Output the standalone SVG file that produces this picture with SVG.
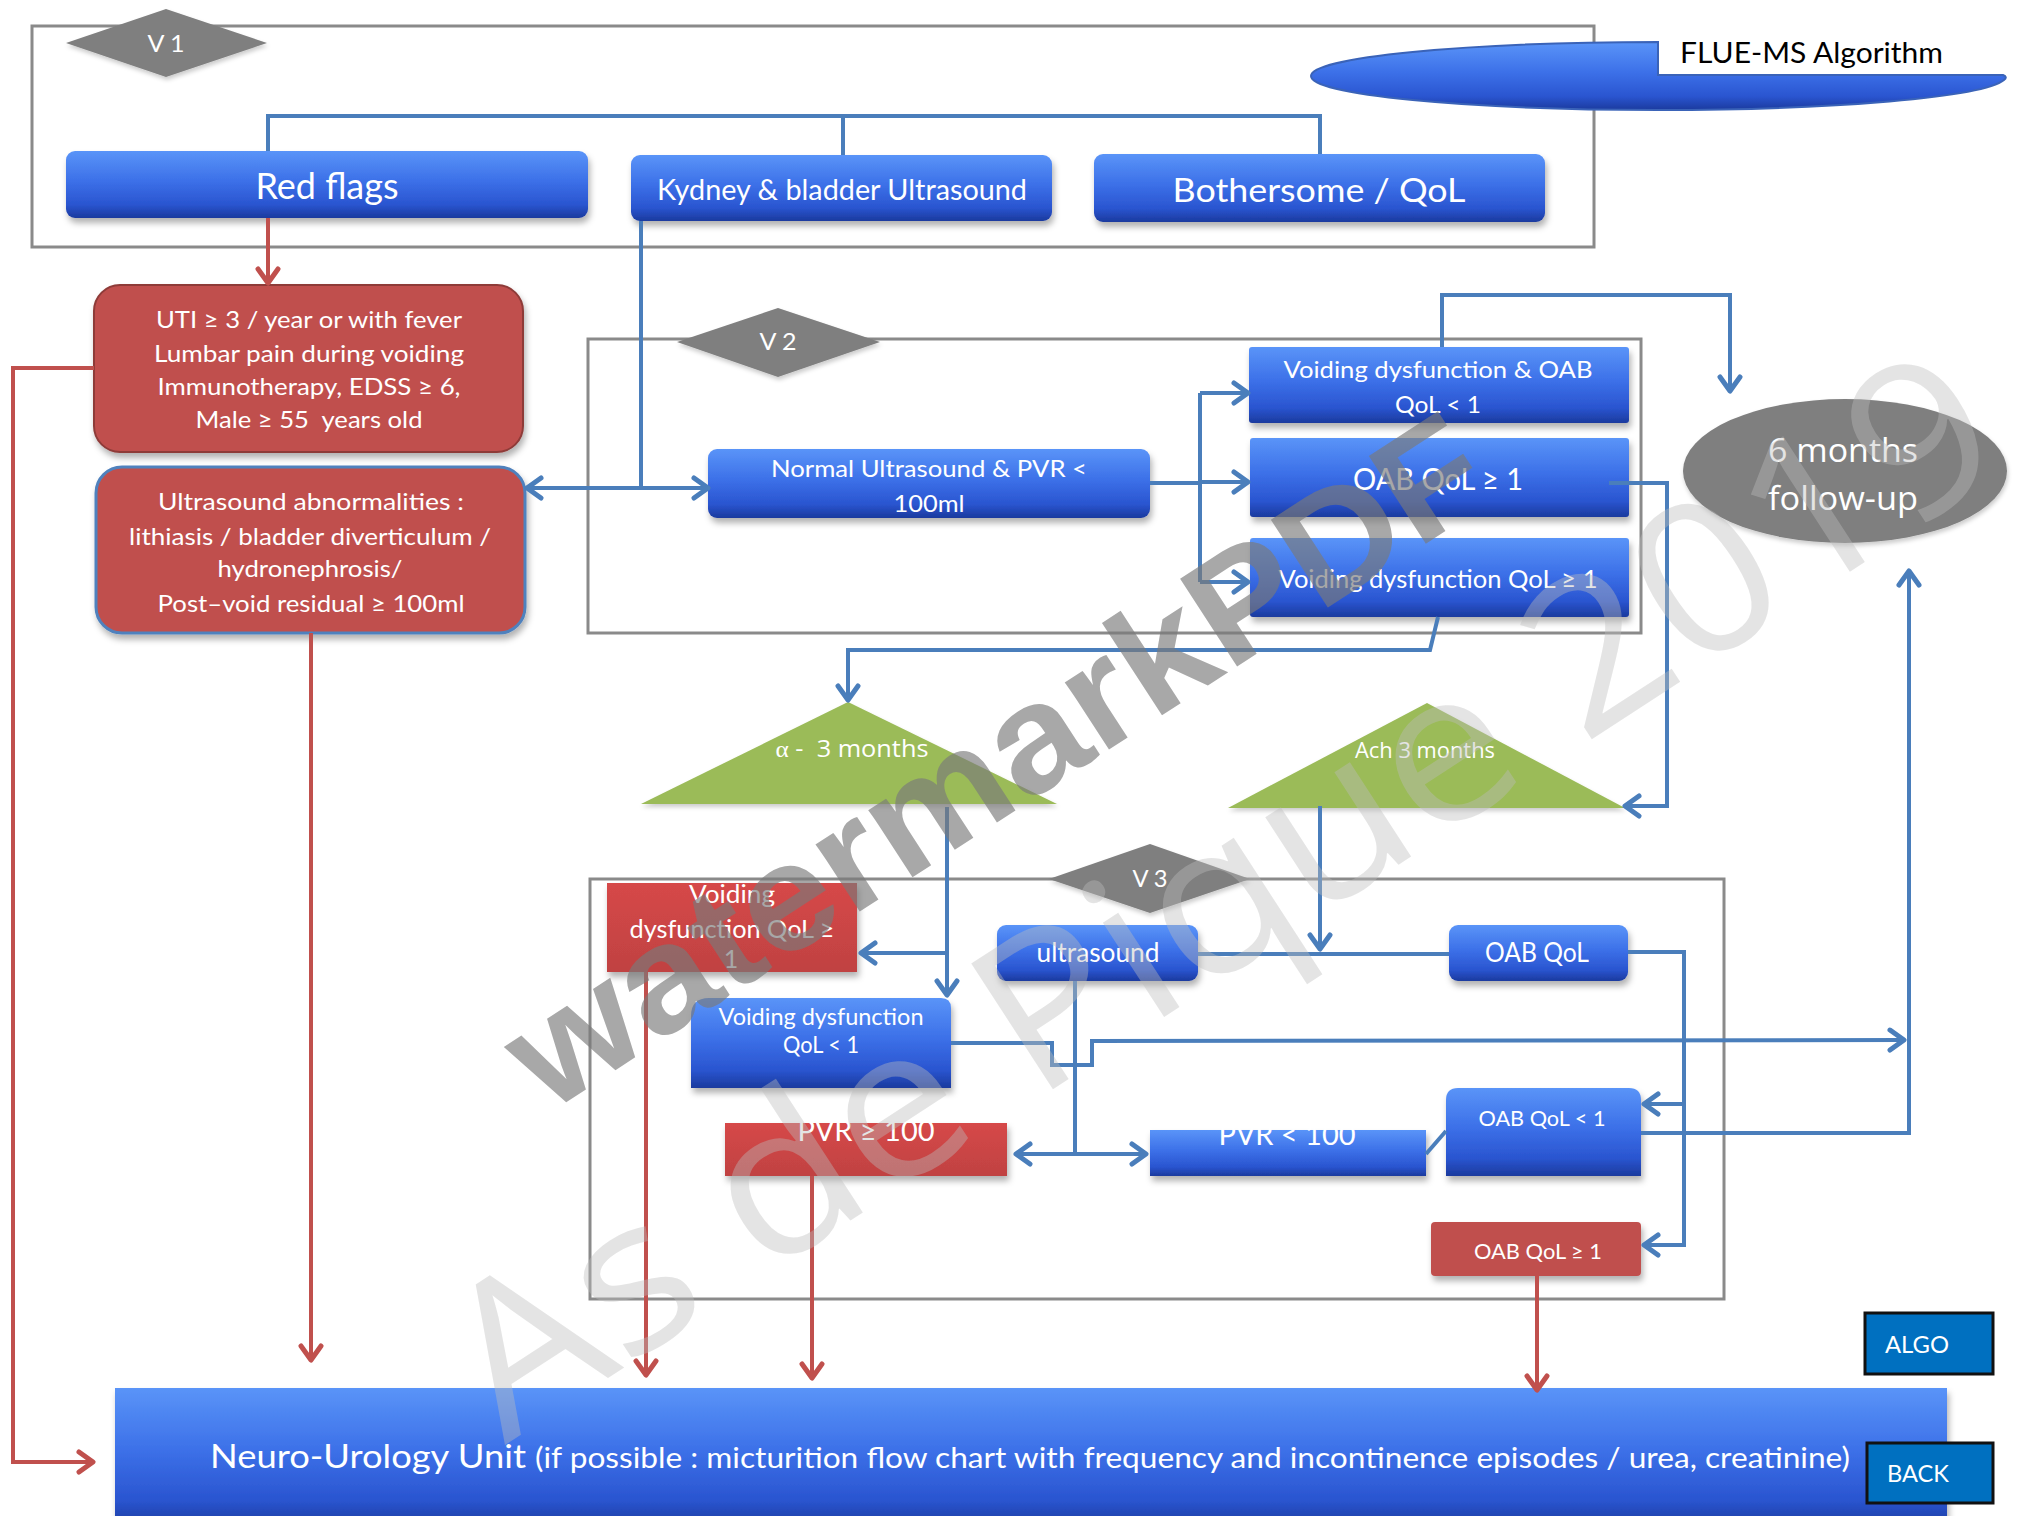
<svg xmlns="http://www.w3.org/2000/svg" width="2020" height="1516" viewBox="0 0 2020 1516">
  <defs>
    <linearGradient id="gBlue" x1="0" y1="0" x2="0" y2="1">
      <stop offset="0" stop-color="#5a94f8"/>
      <stop offset="0.45" stop-color="#3c70e8"/>
      <stop offset="0.8" stop-color="#2a55d0"/>
      <stop offset="1" stop-color="#1b3a9e"/>
    </linearGradient>
    <linearGradient id="gRed" x1="0" y1="0" x2="0" y2="1">
      <stop offset="0" stop-color="#d64848"/>
      <stop offset="1" stop-color="#c04242"/>
    </linearGradient>
    <filter id="shadow" x="-10%" y="-20%" width="120%" height="150%">
      <feDropShadow dx="2" dy="5" stdDeviation="3" flood-color="#000" flood-opacity="0.3"/>
    </filter>
    <filter id="soft" x="-5%" y="-5%" width="110%" height="115%">
      <feDropShadow dx="1" dy="3" stdDeviation="2" flood-color="#000" flood-opacity="0.2"/>
    </filter>
    <marker id="arrB" markerUnits="userSpaceOnUse" markerWidth="26" markerHeight="26" viewBox="0 0 26 26" refX="23" refY="13" orient="auto-start-reverse">
      <path d="M9,3 L23,13 L9,23" fill="none" stroke="#4a7ebb" stroke-width="5" stroke-linecap="round" stroke-linejoin="round"/>
    </marker>
    <marker id="arrR" markerUnits="userSpaceOnUse" markerWidth="26" markerHeight="26" viewBox="0 0 26 26" refX="23" refY="13" orient="auto-start-reverse">
      <path d="M9,3 L23,13 L9,23" fill="none" stroke="#c0504d" stroke-width="5" stroke-linecap="round" stroke-linejoin="round"/>
    </marker>
  </defs>
  <style>
    .frame { fill: none; stroke: #8a8a8a; stroke-width: 3; }
    .blue { fill: url(#gBlue); filter: url(#shadow); }
    .red { fill: #c0504d; filter: url(#shadow); }
    .red2 { fill: url(#gRed); filter: url(#shadow); }
    .diamond { fill: #7f7f7f; filter: url(#soft); }
    .tri { fill: #9bbb59; filter: url(#soft); }
    .t { font-family: Lato, "Liberation Sans", sans-serif; fill: #ffffff; text-anchor: middle; }
    .o { font-family: "Open Sans", "Liberation Sans", sans-serif; fill: #ffffff; text-anchor: middle; }
    .cb { fill: none; stroke: #4a7ebb; stroke-width: 4; stroke-linejoin: miter; }
    .cr { fill: none; stroke: #c0504d; stroke-width: 4; }
    .btn { fill: #0070c0; stroke: #111111; stroke-width: 3; }
    .wm1 { font-family: "Liberation Sans", Arial, sans-serif; font-weight: bold; font-size: 152px; fill: #7a7a7a; opacity: 0.65; }
    .wm2 { font-family: "Open Sans", "Liberation Sans", sans-serif; font-size: 210px; fill: #bdbdbd; opacity: 0.4; }
  </style>

  <rect width="2020" height="1516" fill="#ffffff"/>

  <!-- visit frames -->
  <g id="frames">
    <rect id="frame-v1" class="frame" x="32" y="26" width="1562" height="221"/>
    <rect id="frame-v2" class="frame" x="588" y="339" width="1053" height="294"/>
    <rect id="frame-v3" class="frame" x="590" y="879" width="1134" height="420"/>
  </g>

  <!-- title banner -->
  <g id="title">
    <path d="M1311,76 A347,34 0 0 1 1658,42 L1658,75 L2003,75 Q2008,77 2004,80 A347,34 0 0 1 1658,110 A347,34 0 0 1 1311,76 Z" fill="url(#gBlue)" stroke="#3a63b8" stroke-width="2"/>
    <text x="1680" y="63" font-family="Lato, 'Liberation Sans', sans-serif" font-size="28" fill="#000000" textLength="263" lengthAdjust="spacingAndGlyphs">FLUE-MS Algorithm</text>
  </g>

  <!-- nodes -->
  <g id="red-flags">
    <rect class="blue" x="66" y="151" width="522" height="67" rx="9"/>
    <text class="t" x="327" y="199" font-size="36" textLength="143" lengthAdjust="spacingAndGlyphs">Red flags</text>
  </g>
  <g id="kidney-us">
    <rect class="blue" x="631" y="155" width="421" height="66" rx="9"/>
    <text class="t" x="842" y="200" font-size="28" textLength="370" lengthAdjust="spacingAndGlyphs">Kydney &amp; bladder Ultrasound</text>
  </g>
  <g id="bothersome">
    <rect class="blue" x="1094" y="154" width="451" height="68" rx="9"/>
    <text class="t" x="1319" y="202" font-size="33" textLength="293" lengthAdjust="spacingAndGlyphs">Bothersome / QoL</text>
  </g>

  <g id="uti-flags">
    <rect class="red" x="94" y="285" width="429" height="167" rx="26" stroke="#8e3b39" stroke-width="2"/>
    <text class="t" x="309" y="328" font-size="24" textLength="306" lengthAdjust="spacingAndGlyphs">UTI ≥ 3 / year or with fever</text>
    <text class="t" x="309" y="362" font-size="24" textLength="310" lengthAdjust="spacingAndGlyphs">Lumbar pain during voiding</text>
    <text class="t" x="309" y="395" font-size="24" textLength="303" lengthAdjust="spacingAndGlyphs">Immunotherapy, EDSS ≥ 6,</text>
    <text class="t" x="309" y="428" font-size="24" textLength="227" lengthAdjust="spacingAndGlyphs" xml:space="preserve">Male ≥ 55  years old</text>
  </g>
  <g id="us-abnormal">
    <rect class="red" x="96" y="467" width="429" height="166" rx="26" stroke="#4f81bd" stroke-width="3"/>
    <text class="t" x="311" y="510" font-size="24" textLength="306" lengthAdjust="spacingAndGlyphs">Ultrasound abnormalities :</text>
    <text class="t" x="310" y="545" font-size="24" textLength="362" lengthAdjust="spacingAndGlyphs">lithiasis / bladder diverticulum /</text>
    <text class="t" x="310" y="577" font-size="24" textLength="185" lengthAdjust="spacingAndGlyphs">hydronephrosis/</text>
    <text class="t" x="311" y="612" font-size="24" textLength="307" lengthAdjust="spacingAndGlyphs">Post–void residual ≥ 100ml</text>
  </g>

  <g id="normal-us">
    <rect class="blue" x="708" y="449" width="442" height="69" rx="9"/>
    <text class="t" x="929" y="477" font-size="24" textLength="316" lengthAdjust="spacingAndGlyphs">Normal Ultrasound &amp; PVR &lt;</text>
    <text class="t" x="929" y="512" font-size="24" textLength="71" lengthAdjust="spacingAndGlyphs">100ml</text>
  </g>
  <g id="vd-oab-low">
    <rect class="blue" x="1249" y="347" width="380" height="76" rx="3"/>
    <text class="t" x="1438" y="378" font-size="24" textLength="309" lengthAdjust="spacingAndGlyphs">Voiding dysfunction &amp; OAB</text>
    <text class="t" x="1438" y="413" font-size="24" textLength="86" lengthAdjust="spacingAndGlyphs">QoL &lt; 1</text>
  </g>
  <g id="oab-high">
    <rect class="blue" x="1250" y="438" width="379" height="79" rx="3"/>
    <text class="t" x="1438" y="490" font-size="31" textLength="170" lengthAdjust="spacingAndGlyphs">OAB QoL ≥ 1</text>
  </g>
  <g id="vd-high">
    <rect class="blue" x="1250" y="538" width="379" height="79" rx="3"/>
    <text class="t" x="1438" y="588" font-size="25" textLength="319" lengthAdjust="spacingAndGlyphs">Voiding dysfunction QoL ≥ 1</text>
  </g>

  <g id="follow-up">
    <ellipse cx="1845" cy="471" rx="162" ry="72" fill="#7f7f7f" filter="url(#soft)"/>
    <text class="o" x="1843" y="462" font-size="32" fill="#f2f2f2" textLength="150" lengthAdjust="spacingAndGlyphs">6 months</text>
    <text class="o" x="1843" y="510" font-size="32" fill="#f2f2f2" textLength="150" lengthAdjust="spacingAndGlyphs">follow-up</text>
  </g>

  <g id="alpha-3m">
    <polygon class="tri" points="848,702 1057,804 641,804"/>
    <text class="o" x="852" y="757" font-size="23" fill="#f0f0f0" textLength="153" lengthAdjust="spacingAndGlyphs" xml:space="preserve"><tspan font-family="'Liberation Serif', 'DejaVu Serif', serif">α</tspan> -  3 months</text>
  </g>
  <g id="ach-3m">
    <polygon class="tri" points="1427,703 1625,808 1228,808"/>
    <text class="o" x="1425" y="758" font-size="21" fill="#f0f0f0" textLength="140" lengthAdjust="spacingAndGlyphs">Ach 3 months</text>
  </g>

  <g id="v3-vd-high">
    <rect class="red2" x="607" y="883" width="250" height="89"/>
    <text class="t" x="732" y="903" font-size="25" textLength="86" lengthAdjust="spacingAndGlyphs">Voiding</text>
    <text class="t" x="732" y="938" font-size="25" textLength="205" lengthAdjust="spacingAndGlyphs">dysfunction QoL ≥</text>
    <text class="t" x="731" y="968" font-size="25">1</text>
  </g>
  <g id="v3-vd-low">
    <path class="blue" d="M691,1088 L691,1016 Q691,998 709,998 L941,998 Q951,998 951,1008 L951,1088 Z"/>
    <text class="t" x="821" y="1025" font-size="23" textLength="205" lengthAdjust="spacingAndGlyphs">Voiding dysfunction</text>
    <text class="t" x="821" y="1053" font-size="23" textLength="76" lengthAdjust="spacingAndGlyphs">QoL &lt; 1</text>
  </g>
  <g id="v3-us">
    <rect class="blue" x="997" y="925" width="201" height="56" rx="9"/>
    <text class="t" x="1098" y="962" font-size="26" textLength="123" lengthAdjust="spacingAndGlyphs">ultrasound</text>
  </g>
  <g id="v3-oab">
    <rect class="blue" x="1449" y="925" width="179" height="56" rx="9"/>
    <text class="t" x="1537" y="962" font-size="26" textLength="104" lengthAdjust="spacingAndGlyphs">OAB QoL</text>
  </g>
  <g id="v3-pvr-high">
    <rect class="red2" x="725" y="1123" width="282" height="53"/>
    <text class="t" x="866" y="1141" font-size="28" textLength="137" lengthAdjust="spacingAndGlyphs">PVR ≥ 100</text>
  </g>
  <g id="v3-pvr-low">
    <rect class="blue" x="1150" y="1130" width="276" height="46"/>
    <text class="t" x="1287" y="1145" font-size="28" textLength="137" lengthAdjust="spacingAndGlyphs">PVR &lt; 100</text>
  </g>
  <g id="v3-oab-low">
    <path class="blue" d="M1446,1176 L1446,1100 Q1446,1088 1458,1088 L1629,1088 Q1641,1088 1641,1100 L1641,1176 Z"/>
    <text class="t" x="1542" y="1126" font-size="22" textLength="127" lengthAdjust="spacingAndGlyphs">OAB QoL &lt; 1</text>
  </g>
  <g id="v3-oab-high">
    <rect class="red" x="1431" y="1222" width="210" height="54" rx="4"/>
    <text class="t" x="1538" y="1259" font-size="22" textLength="128" lengthAdjust="spacingAndGlyphs">OAB QoL ≥ 1</text>
  </g>

  <g id="neuro-unit">
    <rect class="blue" x="115" y="1388" width="1832" height="140"/>
    <text x="210" y="1468" font-family="Lato, 'Liberation Sans', sans-serif" font-size="33" fill="#ffffff" textLength="316" lengthAdjust="spacingAndGlyphs">Neuro-Urology Unit</text>
    <text x="535" y="1468" font-family="Lato, 'Liberation Sans', sans-serif" font-size="29" fill="#ffffff" textLength="1315" lengthAdjust="spacingAndGlyphs">(if possible : micturition flow chart with frequency and incontinence episodes / urea, creatinine)</text>
  </g>

  <g id="btn-algo">
    <rect class="btn" x="1865" y="1313" width="128" height="61"/>
    <text class="t" x="1917" y="1353" font-size="24" textLength="64" lengthAdjust="spacingAndGlyphs">ALGO</text>
  </g>
  <g id="btn-back">
    <rect class="btn" x="1867" y="1443" width="126" height="60"/>
    <text class="t" x="1918" y="1482" font-size="24" textLength="62" lengthAdjust="spacingAndGlyphs">BACK</text>
  </g>

  <!-- visit badges -->
  <g id="v1-label">
    <polygon class="diamond" points="66,43 166,9 267,43 166,77"/>
    <text class="t" x="166" y="52" font-size="24" textLength="37" lengthAdjust="spacingAndGlyphs">V 1</text>
  </g>
  <g id="v2-label">
    <polygon class="diamond" points="677,342 778,308 880,342 778,377"/>
    <text class="t" x="778" y="350" font-size="24" textLength="37" lengthAdjust="spacingAndGlyphs">V 2</text>
  </g>
  <g id="v3-label">
    <polygon class="diamond" points="1049,879 1150,844 1250,879 1150,913"/>
    <text class="t" x="1150" y="887" font-size="24" textLength="35" lengthAdjust="spacingAndGlyphs">V 3</text>
  </g>

  <!-- connectors -->
  <g id="connectors">
    <!-- V1 bracket -->
    <path class="cb" d="M268,151 L268,116 L1320,116 L1320,154"/>
    <path class="cb" d="M843,116 L843,155"/>
    <!-- kidney ultrasound outcome -->
    <path class="cb" d="M641,221 L641,488"/>
    <path class="cb" d="M527,488 L708,488" marker-start="url(#arrB)" marker-end="url(#arrB)"/>
    <!-- normal ultrasound to the three V2 branches -->
    <path class="cb" d="M1150,483 L1200,483"/>
    <path class="cb" d="M1200,393 L1200,582"/>
    <path class="cb" d="M1200,393 L1248,393" marker-end="url(#arrB)"/>
    <path class="cb" d="M1200,482 L1248,482" marker-end="url(#arrB)"/>
    <path class="cb" d="M1200,582 L1248,582" marker-end="url(#arrB)"/>
    <!-- to follow-up -->
    <path class="cb" d="M1442,347 L1442,295 L1730,295 L1730,391" marker-end="url(#arrB)"/>
    <!-- OAB to anticholinergic -->
    <path class="cb" d="M1609,483 L1667,483 L1667,806 L1625,806" marker-end="url(#arrB)"/>
    <!-- voiding dysfunction to alpha-blocker -->
    <path class="cb" d="M1438,617 L1430,650 L848,650 L848,700" marker-end="url(#arrB)"/>
    <!-- alpha-blocker outcomes -->
    <path class="cb" d="M947,807 L947,995" marker-end="url(#arrB)"/>
    <path class="cb" d="M947,953 L861,953" marker-end="url(#arrB)"/>
    <!-- anticholinergic outcome -->
    <path class="cb" d="M1320,806 L1320,949" marker-end="url(#arrB)"/>
    <path class="cb" d="M1198,954 L1449,954"/>
    <!-- ultrasound to PVR -->
    <path class="cb" d="M1075,981 L1075,1154"/>
    <path class="cb" d="M1016,1154 L1146,1154" marker-start="url(#arrB)" marker-end="url(#arrB)"/>
    <path class="cb" d="M1426,1154 L1446,1131"/>
    <!-- OAB QoL split -->
    <path class="cb" d="M1628,952 L1684,952 L1684,1245 L1644,1245" marker-end="url(#arrB)"/>
    <path class="cb" d="M1684,1104 L1644,1104" marker-end="url(#arrB)"/>
    <!-- back to follow-up -->
    <path class="cb" d="M951,1043 L1052,1043 L1052,1065 L1092,1065 L1092,1041 L1904,1040" marker-end="url(#arrB)"/>
    <path class="cb" d="M1641,1133 L1909,1133 L1909,571" marker-end="url(#arrB)"/>
    <!-- referrals to the neuro-urology unit -->
    <path class="cr" d="M268,218 L268,283" marker-end="url(#arrR)"/>
    <path class="cr" d="M94,368 L13,368 L13,1462 L93,1462" marker-end="url(#arrR)"/>
    <path class="cr" d="M311,633 L311,1360" marker-end="url(#arrR)"/>
    <path class="cr" d="M646,972 L646,1375" marker-end="url(#arrR)"/>
    <path class="cr" d="M812,1176 L812,1378" marker-end="url(#arrR)"/>
    <path class="cr" d="M1537,1276 L1537,1390" marker-end="url(#arrR)"/>
  </g>

  <!-- overprinted marks -->
  <g id="marks">
    <text class="wm2" transform="translate(505,1445) rotate(-33)" textLength="1800" lengthAdjust="spacingAndGlyphs">As de Pique 2019</text>
    <text class="wm1" transform="translate(548,1114) rotate(-33)" textLength="1135" lengthAdjust="spacingAndGlyphs">watermarkPDF</text>
  </g>
</svg>
